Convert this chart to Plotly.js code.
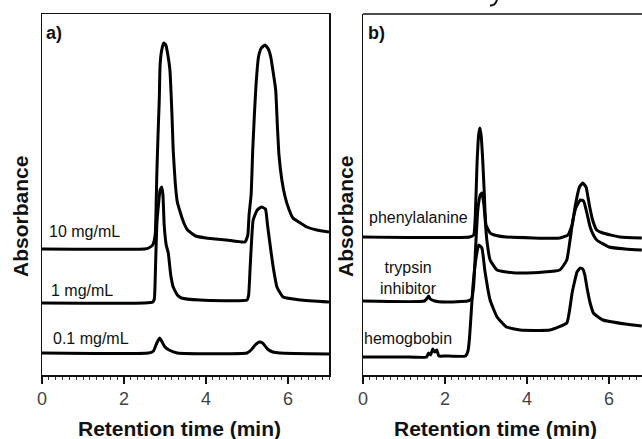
<!DOCTYPE html>
<html>
<head>
<meta charset="utf-8">
<script src="https://cdn.plot.ly/plotly-3.0.1.min.js"></script>
<style>
  html, body { margin: 0; padding: 0; background: #fff; }
  #chart { width: 642px; height: 439px; }
</style>
</head>
<body>
<div id="chart"></div>
<script>
// ---- Panel a) concentration series (retention time, min / absorbance, a.u.) ----
const tA10 = [0, 2.5, 2.6, 2.7, 2.76, 2.8, 2.83, 2.86, 2.88, 2.92, 2.97, 3.02, 3.07, 3.12, 3.15, 3.17, 3.2, 3.25, 3.3, 3.37, 3.45, 3.55, 3.75, 4.0, 4.5, 4.95, 5.02, 5.05, 5.1, 5.14, 5.18, 5.22, 5.28, 5.35, 5.44, 5.52, 5.58, 5.63, 5.7, 5.74, 5.78, 5.85, 5.93, 6.02, 6.12, 6.3, 6.46, 6.7, 7.0];
const yA10 = [126, 126, 127, 130, 140, 200, 240, 275, 310, 325, 332, 330, 320, 305, 280, 260, 225, 192, 173, 163, 153, 145, 139, 137, 135, 133, 140, 160, 180, 225, 260, 290, 318, 327, 330, 326, 318, 305, 285, 250, 220, 195, 178, 166, 157, 152, 148, 145, 143];

const tA1 = [0, 2.5, 2.7, 2.74, 2.77, 2.8, 2.84, 2.88, 2.92, 2.95, 2.98, 3.03, 3.08, 3.14, 3.2, 3.3, 3.4, 3.85, 5.0, 5.04, 5.08, 5.15, 5.25, 5.35, 5.45, 5.5, 5.58, 5.65, 5.73, 5.88, 6.3, 7.0];
const yA1 = [72, 72, 73, 76, 110, 150, 170, 185, 188, 180, 150, 130, 122, 100, 88, 80, 77, 75, 75, 80, 110, 155, 165, 168, 166, 150, 125, 105, 88, 78, 75, 73];

const tA01 = [0, 2.6, 2.72, 2.8, 2.87, 2.93, 3.0, 3.1, 3.3, 5.0, 5.1, 5.2, 5.3, 5.38, 5.5, 5.63, 5.8, 7.0];
const yA01 = [22, 22, 24, 32, 37, 33, 28, 25, 22, 22, 25, 30, 33, 32, 26, 23, 22, 21];

// ---- Panel b) sample series ----
const tPhe = [0, 2.6, 2.7, 2.74, 2.78, 2.82, 2.85, 2.88, 2.92, 2.96, 3.0, 3.1, 3.2, 3.5, 4.8, 5.0, 5.1, 5.18, 5.28, 5.36, 5.44, 5.52, 5.6, 5.7, 5.85, 6.27, 6.8];
const yPhe = [138, 138, 140, 160, 210, 240, 247, 240, 215, 180, 150, 142, 140, 138, 137, 140, 150, 170, 188, 192, 188, 170, 155, 145, 142, 138, 137];

const tTry = [0, 1.5, 1.57, 1.6, 1.64, 1.75, 2.0, 2.55, 2.65, 2.7, 2.75, 2.8, 2.86, 2.9, 2.95, 2.98, 3.02, 3.1, 3.27, 3.5, 4.0, 4.8, 4.97, 5.05, 5.12, 5.2, 5.3, 5.38, 5.46, 5.54, 5.62, 5.7, 6.0, 6.4, 6.8];
const yTry = [74, 74, 77, 79, 76, 74, 73, 74, 76, 90, 130, 165, 180, 182, 170, 155, 135, 115, 105, 103, 102, 105, 115, 135, 155, 168, 175, 174, 162, 148, 140, 135, 128, 126, 125];

const tHem = [0, 1.0, 1.55, 1.6, 1.65, 1.7, 1.75, 1.8, 1.85, 2.0, 2.5, 2.56, 2.6, 2.68, 2.75, 2.82, 2.9, 2.97, 3.1, 3.27, 3.5, 3.83, 4.56, 4.97, 5.05, 5.1, 5.17, 5.22, 5.3, 5.36, 5.41, 5.46, 5.54, 5.62, 5.85, 6.4, 6.8];
const yHem = [18, 18, 18, 22, 20, 26, 23, 25, 19, 19, 19, 24, 38, 88, 115, 130, 127, 105, 75, 58, 48, 45, 45, 52, 68, 82, 95, 103, 107, 106, 100, 88, 72, 62, 55, 51, 49];

const panelLabels = ["a)", "b)"];
const seriesLabelsA = ["10 mg/mL", "1 mg/mL", "0.1 mg/mL"];
const seriesLabelsB = ["phenylalanine", "trypsin<br>inhibitor", "hemogbobin"];
const xTitle = "Retention time (min)";
const yTitle = "Absorbance";
const xTicks = [0, 2, 4, 6];

// ---- layout helpers (pixel -> paper) ----
const W = 642, H = 439;
const px = v => v / W;
const py = v => 1 - v / H;

const FONT = "Liberation Sans, Arial, sans-serif";
const line = {color: "#000", width: 3, shape: "spline", smoothing: 0.4};

function tr(x, y, xa, ya) {
  return {x: x, y: y, xaxis: xa, yaxis: ya, type: "scatter", mode: "lines",
          line: line, hoverinfo: "skip", showlegend: false};
}

const data = [
  tr(tA10, yA10, "x", "y"),
  tr(tA1, yA1, "x", "y"),
  tr(tA01, yA01, "x", "y"),
  tr(tPhe, yPhe, "x2", "y2"),
  tr(tTry, yTry, "x2", "y2"),
  tr(tHem, yHem, "x2", "y2")
];

const yDom = [py(375), py(14)];

function xAxis(domain, range, mirror) {
  return {
    domain: domain, range: range, anchor: mirror ? "y" : "y2",
    showline: true, linecolor: "#111", linewidth: 1.5, mirror: mirror,
    showgrid: false, zeroline: false,
    tickmode: "array", tickvals: xTicks, ticktext: xTicks.map(String),
    ticks: "outside", ticklen: 7, tickwidth: 1.3, tickcolor: "#111",
    minor: {dtick: 1/6, tick0: 0, ticks: "outside", ticklen: 3, tickwidth: 1, tickcolor: "#333", showgrid: false},
    tickfont: {family: FONT, size: 18, color: "#444"}
  };
}
function yAxis(mirror, anchor) {
  return {
    domain: yDom, range: [0, 361], anchor: anchor,
    showline: true, linecolor: "#111", linewidth: 1.5, mirror: mirror,
    showgrid: false, zeroline: false, showticklabels: false, ticks: ""
  };
}

const xa = xAxis([px(42), px(329)], [0, 7], true);
const xb = xAxis([px(363), 1], [0, (642 - 363) / 41], false);
const ya = yAxis(true, "x");
const yb = yAxis(false, "x2");

function ann(text, x, y, size, bold, align, angle) {
  return {text: bold ? "<b>" + text + "</b>" : text, xref: "paper", yref: "paper",
          x: px(x), y: py(y), xanchor: align || "left", yanchor: "middle",
          showarrow: false, align: "center", textangle: angle || 0,
          font: {family: FONT, size: size, color: "#111"}};
}

const layout = {
  width: W, height: H,
  margin: {l: 0, r: 0, t: 0, b: 0},
  paper_bgcolor: "#fff", plot_bgcolor: "#fff",
  xaxis: xa, yaxis: ya, xaxis2: xb, yaxis2: yb,
  showlegend: false,
  shapes: [
    {type: "line", xref: "paper", yref: "paper", x0: px(363), x1: 1, y0: py(14), y1: py(14),
     line: {color: "#111", width: 1.5}},
    // descender fragment of a caption letter cut off by the top edge of the image
    {type: "path", xref: "paper", yref: "paper",
     path: "M " + px(497) + "," + py(0) + " Q " + px(495) + "," + py(6) + " " + px(490) + "," + py(5.5),
     line: {color: "#111", width: 2}}
  ],
  annotations: [
    ann(panelLabels[0], 44, 33, 18, true),
    ann(panelLabels[1], 366, 33, 18, true),
    ann(seriesLabelsA[0], 47, 231, 16, false),
    ann(seriesLabelsA[1], 49, 290, 16, false),
    ann(seriesLabelsA[2], 51, 338, 16, false),
    ann(seriesLabelsB[0], 367, 217, 16, false),
    ann(seriesLabelsB[1], 408, 278, 16, false, "center"),
    ann(seriesLabelsB[2], 362, 338, 16, false),
    ann(xTitle, 180, 428, 21, true, "center"),
    ann(xTitle, 495, 428, 21, true, "center"),
    ann(yTitle, 20, 217, 21, true, "center", -90),
    ann(yTitle, 345, 217, 21, true, "center", -90)
  ]
};

Plotly.newPlot("chart", data, layout, {staticPlot: true, displayModeBar: false});
</script>
</body>
</html>
